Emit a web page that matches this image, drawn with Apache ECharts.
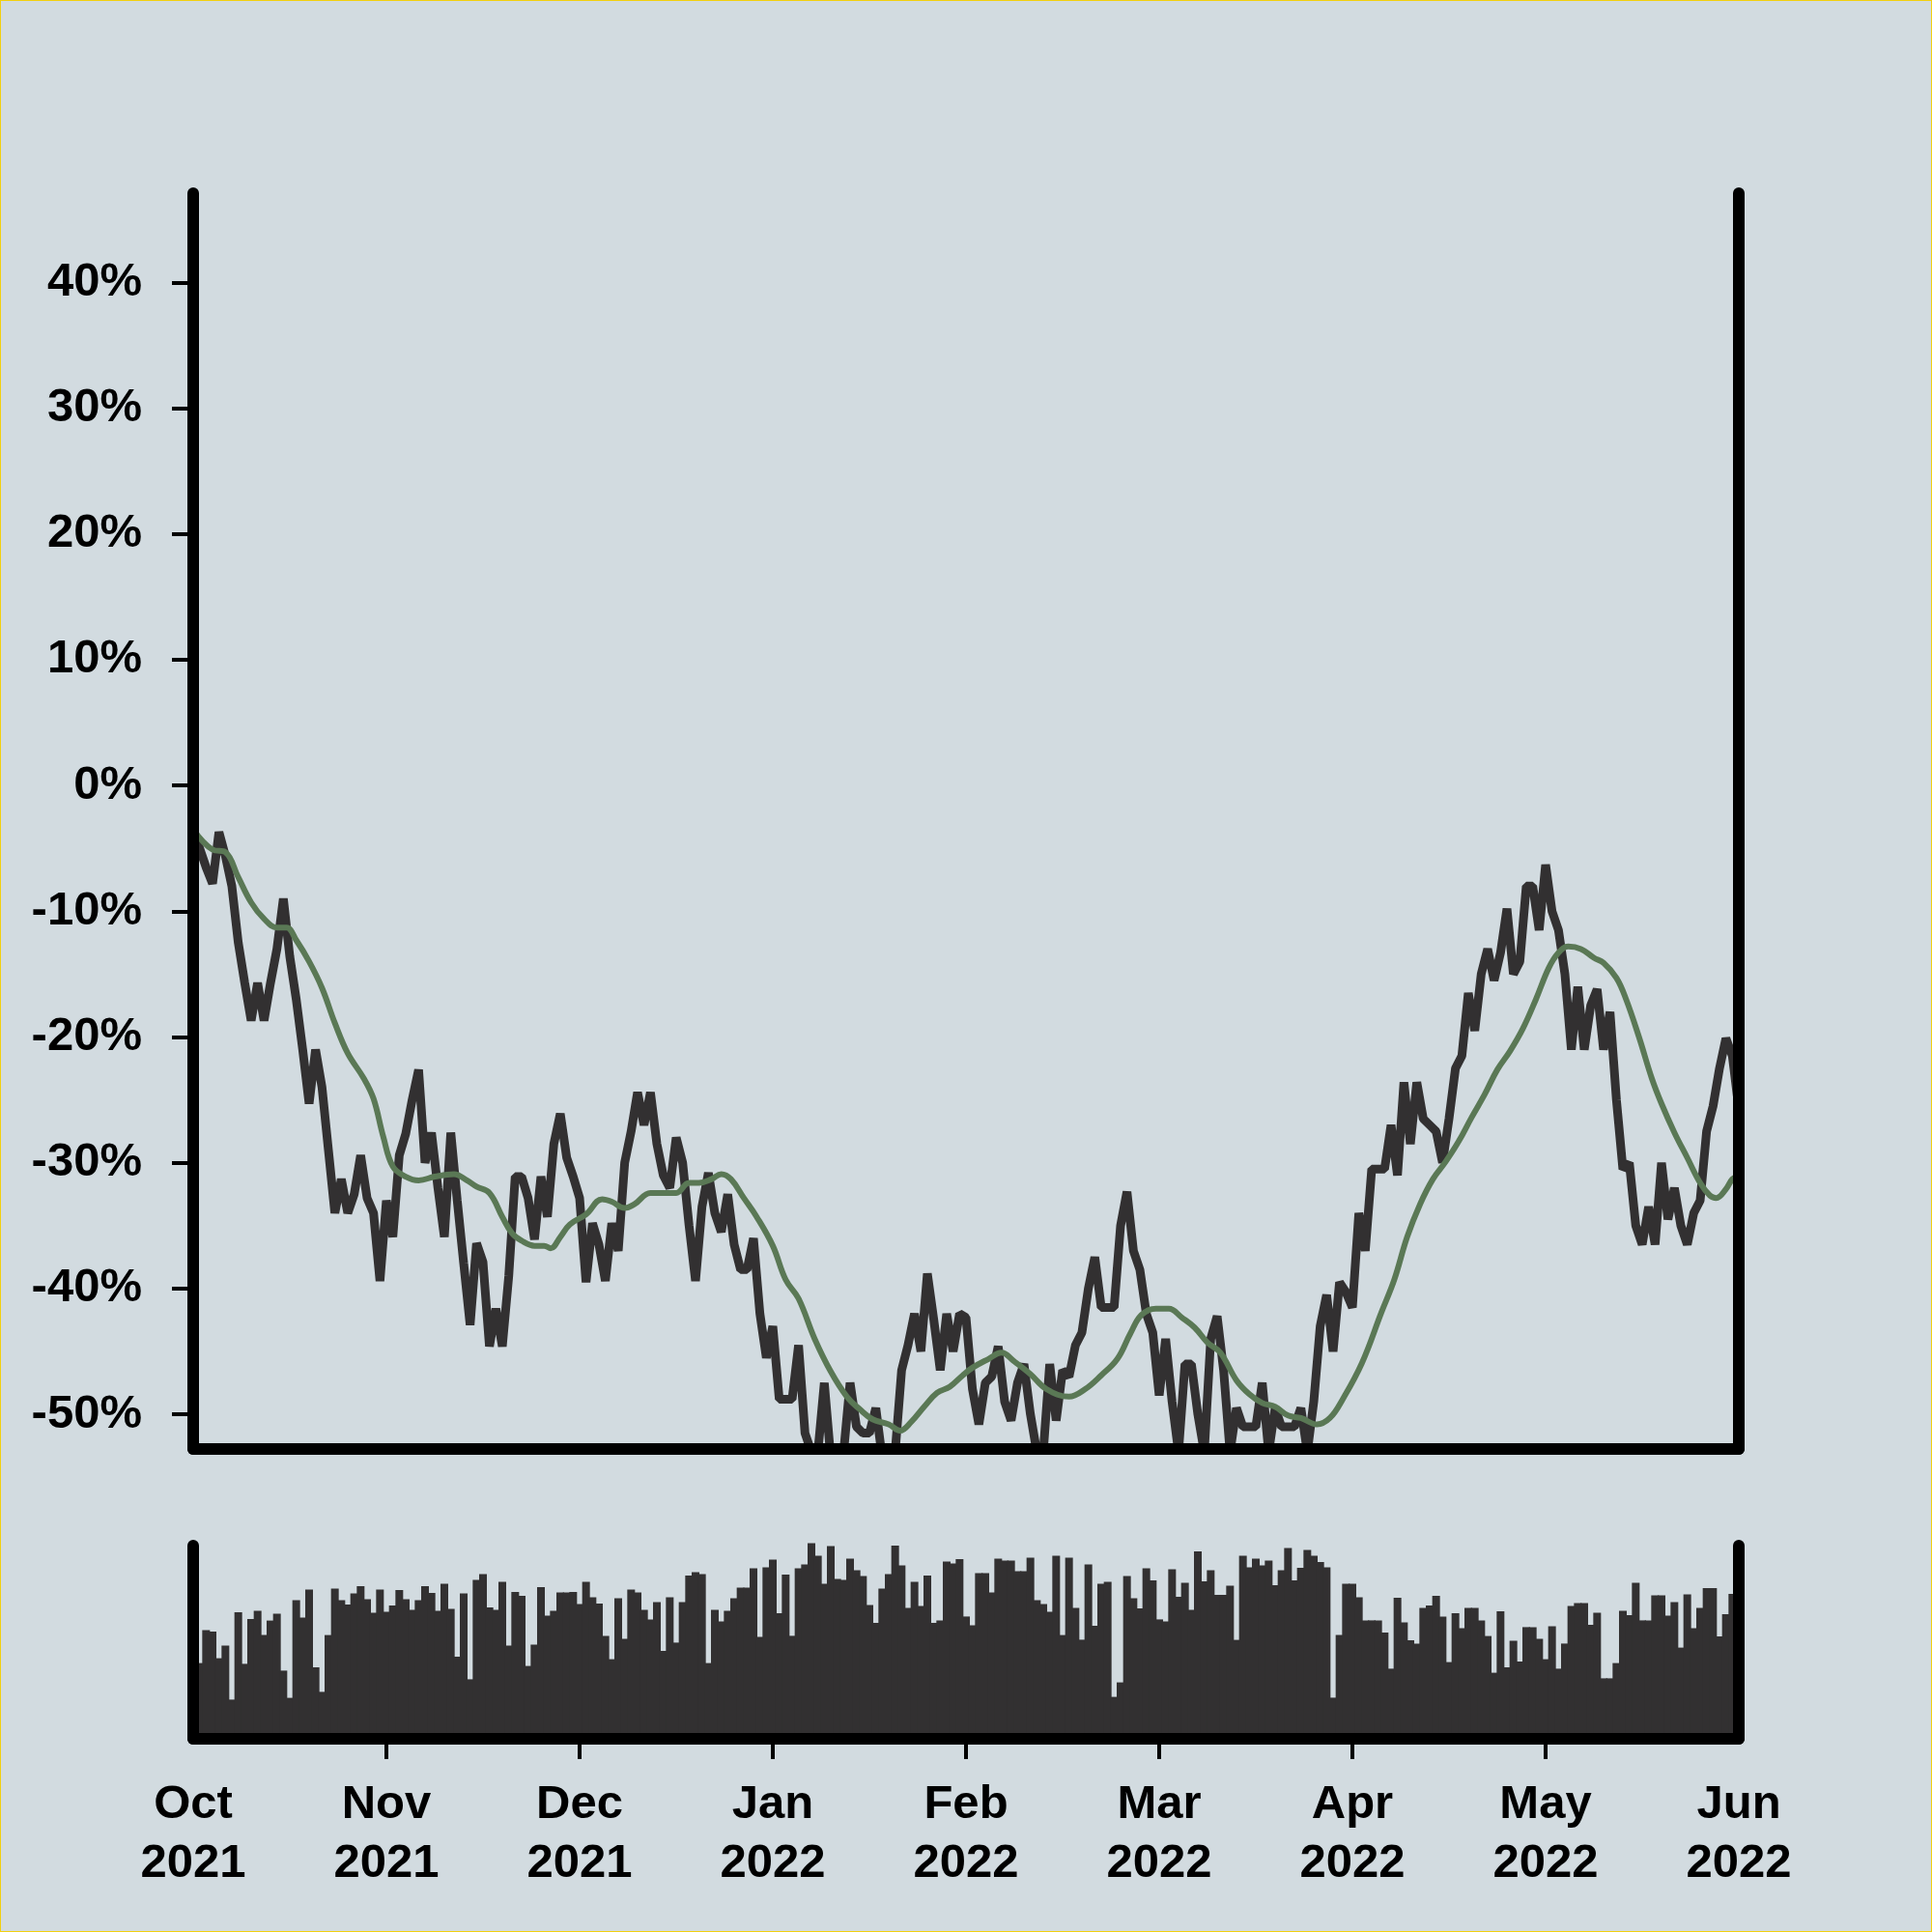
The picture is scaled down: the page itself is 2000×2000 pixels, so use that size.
<!DOCTYPE html>
<html>
<head>
<meta charset="utf-8">
<script src="https://cdn.jsdelivr.net/npm/echarts@6/dist/echarts.min.js"></script>
<style>
html,body{margin:0;padding:0;background:#d2dbe0;}
#c{width:2000px;height:2000px;position:absolute;left:0;top:0;}
#b{position:absolute;left:0;top:0;width:2000px;height:2000px;box-sizing:border-box;border:1px solid #f2d00e;pointer-events:none;}
</style>
</head>
<body>
<div id="c"></div>
<div id="b"></div>
<script>
// x positions are point indices; month labels every 30 points
const monthLabels = ['Oct\n2021','Nov\n2021','Dec\n2021','Jan\n2022','Feb\n2022','Mar\n2022','Apr\n2022','May\n2022','Jun\n2022'];
const xTickPositions = [30,60,90,120,150,180,210];
const yTicks = [-50,-40,-30,-20,-10,0,10,20,30,40];

// cumulative return (%), one value per point (241 points)
const price = [
-3.5,-5.0,-6.5,-7.8,-3.7,-5.6,-8.0,-12.5,-15.7,-18.7,
-15.7,-18.7,-15.7,-13.0,-9.0,-13.6,-17.0,-21.0,-25.3,-21.0,
-24.0,-29.0,-34.0,-31.3,-34.0,-32.5,-29.4,-32.8,-34.0,-39.4,
-33.0,-35.9,-29.4,-27.7,-25.0,-22.6,-30.0,-27.6,-32.0,-35.9,
-27.6,-33.0,-38.0,-42.9,-36.4,-37.9,-44.6,-41.6,-44.6,-39.0,
-31.1,-31.1,-32.8,-36.1,-31.1,-34.3,-28.5,-26.1,-29.6,-31.1,
-32.8,-39.5,-34.8,-36.5,-39.4,-34.8,-37.0,-30.0,-27.5,-24.4,
-27.0,-24.4,-28.5,-31.0,-32.0,-28.0,-30.0,-35.0,-39.4,-33.5,
-30.8,-34.0,-35.5,-32.5,-36.5,-38.5,-38.5,-36.0,-42.0,-45.5,
-43.0,-48.8,-48.8,-48.8,-44.5,-51.5,-53.0,-53.0,-47.5,-53.5,
-53.0,-53.0,-47.5,-51.0,-51.5,-51.5,-49.5,-53.5,-53.5,-53.0,
-46.5,-44.5,-42.0,-45.0,-38.8,-42.5,-46.5,-42.0,-45.0,-42.0,
-42.3,-48.0,-50.8,-47.5,-47.0,-44.6,-49.0,-50.5,-47.5,-46.0,
-50.0,-53.0,-53.0,-46.0,-50.5,-46.5,-47.0,-44.5,-43.5,-40.0,
-37.5,-41.5,-41.5,-41.5,-35.0,-32.3,-37.0,-38.5,-42.0,-43.5,
-48.5,-44.0,-49.0,-53.0,-46.0,-46.0,-50.0,-53.0,-44.0,-42.2,
-46.5,-53.0,-49.5,-51.0,-51.0,-51.0,-47.5,-53.0,-49.5,-51.0,
-51.0,-51.0,-49.5,-53.0,-49.0,-43.0,-40.5,-45.0,-39.5,-40.3,
-41.5,-34.0,-37.0,-30.5,-30.5,-30.5,-27.0,-31.0,-23.6,-28.5,
-23.6,-26.5,-27.0,-27.5,-30.0,-26.5,-22.5,-21.5,-16.5,-19.5,
-15.0,-13.0,-15.5,-13.3,-9.8,-15.0,-14.0,-8.0,-8.0,-11.5,
-6.3,-10.0,-11.5,-15.0,-21.0,-16.0,-21.0,-17.5,-16.2,-21.0,
-18.0,-25.0,-30.5,-30.0,-35.0,-36.5,-33.5,-36.5,-30.0,-34.5,
-32.0,-35.0,-36.5,-34.0,-33.0,-27.5,-25.5,-22.5,-20.1,-21.5,
-25.7
];

// moving average line, read at these point positions
const maIdx = [0,3,5,7,9,11,13,14.5,16,18,20,22,24,26.5,28,29.5,31,33,35,37.5,40.5,42.5,44,46,48,49.5,51,53,54.5,55.5,57,58.5,61,63.5,65,67,68.5,71,73.5,75,77,78.5,80.5,82,83.5,85.5,87.5,90,92,94,96.5,99,101.5,103.5,105.5,108,109.75,111.5,113.5,115.5,117.5,119.5,121,123.5,125.5,127.5,130,132.5,136,138.5,141,143.5,145.5,147.25,149.5,151.5,153.5,155.5,157.5,159.5,162,164,166,168,170,172,174.5,176.5,178.5,181.5,184.5,186.5,188.5,190.5,192.5,194.5,196.5,198.5,200.5,202.5,204.5,206.5,208.5,210.5,212,213.5,215.5,217.5,219,221,222.5,224.5,226.5,228,230,232,234,235.5,236.5,238,239,240];
const maVals = [-3.5,-5.1,-5.3,-7.3,-9.3,-10.6,-11.3,-11.3,-12.3,-14.0,-16.1,-18.9,-21.3,-23.3,-24.9,-27.9,-30.3,-31.1,-31.4,-31.1,-30.9,-31.4,-31.9,-32.4,-34.3,-35.6,-36.2,-36.6,-36.6,-36.8,-35.9,-34.9,-34.1,-32.9,-33.1,-33.6,-33.3,-32.4,-32.4,-32.4,-31.6,-31.6,-31.3,-30.9,-31.3,-32.8,-34.3,-36.6,-39.3,-40.8,-44.0,-46.6,-48.6,-49.6,-50.4,-50.8,-51.3,-50.6,-49.4,-48.3,-47.8,-46.9,-46.3,-45.6,-45.1,-45.8,-46.8,-48.0,-48.6,-48.0,-46.9,-45.6,-43.6,-42.1,-41.6,-41.6,-42.3,-43.1,-44.3,-45.1,-47.3,-48.4,-49.1,-49.4,-50.1,-50.3,-50.8,-50.3,-48.8,-45.9,-41.9,-39.3,-35.9,-33.3,-31.3,-29.9,-28.3,-26.4,-24.6,-22.6,-21.1,-19.3,-17.0,-14.5,-13.3,-12.8,-13.0,-13.7,-14.1,-15.3,-17.0,-20.0,-23.3,-25.3,-27.6,-29.6,-31.6,-32.6,-32.8,-32.1,-31.3,-31.0];

// volume (relative units), one value per point
const volume = [
39.2,39.2,56.3,55.5,41.7,48.3,20.3,65.5,38.8,62.0,
66.3,53.7,61.2,64.8,35.3,21.2,71.8,62.8,77.3,37.0,
24.3,53.7,77.8,71.8,69.5,75.2,79.0,72.3,65.3,77.3,
65.8,69.0,77.0,72.3,66.8,71.8,79.0,75.5,66.2,80.3,
67.3,42.5,75.3,30.8,82.3,85.3,68.0,66.7,81.3,48.3,
76.0,74.0,37.7,48.7,78.5,63.7,66.3,75.8,75.8,76.0,
69.8,81.3,73.3,70.0,53.3,41.2,72.7,51.7,77.2,75.8,
66.8,61.7,70.7,45.5,73.3,49.8,70.8,84.5,86.3,85.3,
39.2,66.7,60.8,66.3,72.8,78.2,78.2,88.3,52.8,88.7,
92.8,65.0,85.0,53.3,88.3,90.3,101.3,94.7,80.3,99.8,
82.8,82.3,93.3,87.3,84.3,69.3,60.0,77.8,85.3,100.0,
89.7,67.7,81.3,68.8,84.5,60.0,61.3,91.7,90.8,93.0,
63.3,58.7,85.8,85.8,75.8,93.3,92.3,92.3,86.7,86.7,
93.8,71.7,69.7,65.7,94.8,53.7,93.8,67.8,51.3,90.2,
58.5,80.2,81.3,21.7,29.2,84.2,72.7,67.5,88.3,82.0,
61.8,60.8,87.8,73.5,80.7,66.8,97.0,81.5,87.3,74.5,
74.5,79.3,51.2,94.8,88.8,93.2,89.7,92.3,79.5,87.3,
98.8,82.0,88.5,97.8,94.8,91.5,88.8,21.3,53.8,80.2,
80.2,73.3,61.3,61.3,61.3,55.0,36.3,73.0,60.3,51.0,
49.2,67.8,69.0,74.0,63.2,39.7,65.0,57.3,67.8,67.8,
61.3,53.2,34.2,66.0,37.0,50.8,40.0,57.8,57.8,51.8,
41.2,58.3,36.3,49.3,68.8,70.2,70.2,59.0,65.3,31.3,
31.3,39.2,66.3,64.0,80.8,61.3,61.3,74.2,74.2,63.8,
70.8,47.2,74.8,57.2,67.7,78.0,78.0,53.0,64.5,75.0,
75.0
];

const FONT = 'Liberation Sans';
const axisLineStyle = {color:'#000', width:12, cap:'round'};
const labelStyle = {fontFamily:FONT, fontWeight:'bold', fontSize:49, color:'#000'};

const chart = echarts.init(document.getElementById('c'), null, {renderer:'canvas', width:2000, height:2000});
chart.setOption({
  animation:false,
  backgroundColor:'#d2dbe0',
  grid:[
    {left:200, right:200, top:200, height:1300},
    {left:200, right:200, top:1600, height:200}
  ],
  xAxis:[
    {gridIndex:0, type:'value', min:0, max:240, interval:30, z:10,
     axisLine:{show:true, onZero:false, lineStyle:axisLineStyle},
     axisTick:{show:false}, axisLabel:{show:false}, splitLine:{show:false}},
    {gridIndex:1, type:'value', min:0, max:240, interval:30, z:10,
     axisLine:{show:true, onZero:false, lineStyle:axisLineStyle},
     axisTick:{show:true, length:21, customValues:xTickPositions, lineStyle:{color:'#000', width:4}},
     axisLabel:Object.assign({show:true, margin:38, lineHeight:61,
       formatter:function(v){return monthLabels[Math.round(v/30)];}}, labelStyle),
     splitLine:{show:false}}
  ],
  yAxis:[
    {gridIndex:0, type:'value', min:-52.76, max:47.1, position:'left', z:10,
     axisLine:{show:true, onZero:false, lineStyle:axisLineStyle},
     axisTick:{show:true, length:22, customValues:yTicks, lineStyle:{color:'#000', width:4}},
     axisLabel:Object.assign({show:true, margin:53, customValues:yTicks,
       formatter:function(v){return Math.round(v)+'%';}}, labelStyle),
     splitLine:{show:false}},
    {gridIndex:0, type:'value', min:-52.76, max:47.1, position:'right', z:10,
     axisLine:{show:true, onZero:false, lineStyle:axisLineStyle},
     axisTick:{show:false}, axisLabel:{show:false}, splitLine:{show:false}},
    {gridIndex:1, type:'value', min:0, max:100, position:'left', z:10,
     axisLine:{show:true, onZero:false, lineStyle:axisLineStyle},
     axisTick:{show:false}, axisLabel:{show:false}, splitLine:{show:false}},
    {gridIndex:1, type:'value', min:0, max:100, position:'right', z:10,
     axisLine:{show:true, onZero:false, lineStyle:axisLineStyle},
     axisTick:{show:false}, axisLabel:{show:false}, splitLine:{show:false}}
  ],
  series:[
    {type:'line', xAxisIndex:0, yAxisIndex:0, z:2,
     data:price.map(function(v,i){return [i,v];}),
     showSymbol:false, clip:true,
     lineStyle:{color:'#323031', width:9, join:'bevel'}},
    {type:'line', xAxisIndex:0, yAxisIndex:0, z:3,
     data:maIdx.map(function(x,k){return [x, maVals[k]];}),
     showSymbol:false, smooth:0.4, clip:true,
     lineStyle:{color:'#5a7855', width:6}},
    {type:'bar', xAxisIndex:1, yAxisIndex:2, z:2,
     data:volume.map(function(v,i){return [i,v];}),
     barWidth:8, clip:false,
     itemStyle:{color:'#323031'}}
  ]
});
</script>
</body>
</html>
